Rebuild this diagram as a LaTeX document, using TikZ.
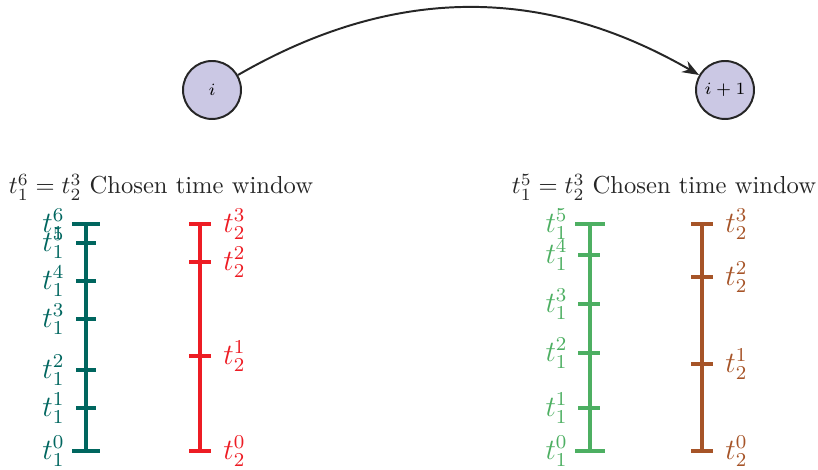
\documentclass[tikz,border=0pt]{standalone}
\usepackage{xcolor}
\usepackage{tikz}
\usepackage{amsmath,amssymb}
\usetikzlibrary{arrows.meta,positioning,calc}
\definecolor{tlteal}{HTML}{00665F}
\definecolor{tlred}{HTML}{ED1C24}
\definecolor{tlgreen}{HTML}{4DAF62}
\definecolor{tlbrown}{HTML}{A65428}
\definecolor{stlav}{HTML}{CBC8E4}

\begin{document}
\begin{tikzpicture}[
  x=0.407pt, y=0.407pt,
  state/.style={circle, draw=black!85, thick, fill=stlav, minimum size=23.6pt, inner sep=0pt, font=\scriptsize},
  arr/.style={-{Stealth[length=2.4mm]}, thick, draw=black!85},
  title/.style={text=black!85},
  tline/.style={line width=1.5pt},
  lab/.style={font=\large, inner sep=2pt}
]
  \useasboundingbox (0,0) rectangle (818,470);

  % states
  \node[state] (si) at (212,380) {$i$};
  \node[state] (snext) at (725,380) {$i+1$};
  \draw[arr] (si) to[bend left=30] (snext);

  % left window
  \node[title] (titleL) at (161,283) {$t_1^6 = t_2^3$ Chosen time window};
  \draw[tline, tlteal] (86,19) -- (86,246);
  \draw[tline, tlteal] (72,19) -- (100,19);
  \draw[tline, tlteal] (72,246) -- (100,246);
  \foreach \y in {62,100,151,189,227}
    \draw[tline, tlteal] (76,\y) -- (96,\y);
  \foreach \k/\y in {0/19,1/62,2/100,3/151,4/189,5/227,6/246}
    \node[lab, left, text=tlteal] (a\k) at (70,\y) {$t_1^{\k}$};

  \draw[tline, tlred] (200,19) -- (200,246);
  \foreach \y in {19,114,208,246}
    \draw[tline, tlred] (189,\y) -- (211,\y);
  \foreach \k/\y in {0/19,1/114,2/208,3/246}
    \node[lab, right, text=tlred] (b\k) at (218,\y) {$t_2^{\k}$};

  % right window
  \node[title] (titleR) at (664,283) {$t_1^5 = t_2^3$ Chosen time window};
  \draw[tline, tlgreen] (590,19) -- (590,246);
  \draw[tline, tlgreen] (575,19) -- (605,19);
  \draw[tline, tlgreen] (575,246) -- (605,246);
  \foreach \y in {62,117,166,215}
    \draw[tline, tlgreen] (578,\y) -- (600,\y);
  \foreach \k/\y in {0/19,1/62,2/117,3/166,4/215,5/246}
    \node[lab, left, text=tlgreen] (c\k) at (573,\y) {$t_1^{\k}$};

  \draw[tline, tlbrown] (702,19) -- (702,246);
  \foreach \y in {19,106,193,246}
    \draw[tline, tlbrown] (691,\y) -- (713,\y);
  \foreach \k/\y in {0/19,1/106,2/193,3/246}
    \node[lab, right, text=tlbrown] (d\k) at (720,\y) {$t_2^{\k}$};
\end{tikzpicture}
\end{document}
